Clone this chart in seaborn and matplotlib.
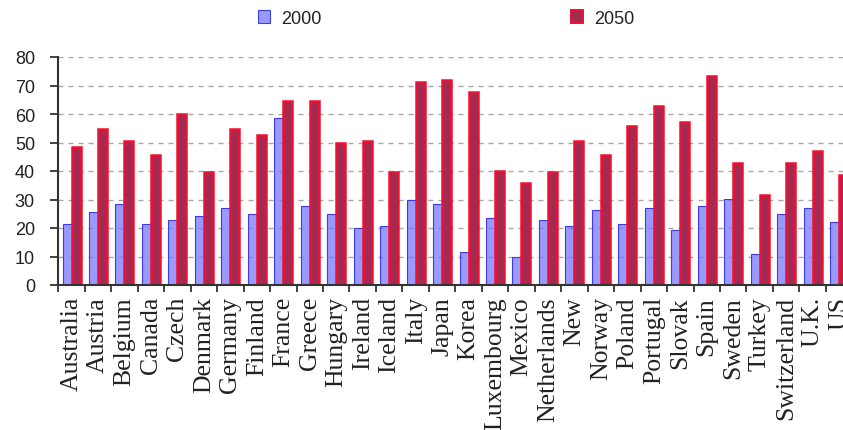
import numpy as np
import pandas as pd
import matplotlib
matplotlib.use("Agg")
import matplotlib.pyplot as plt
from matplotlib.patches import Patch
from matplotlib.font_manager import FontProperties
import seaborn as sns

# OECD countries (as labelled on the axis)
countries = ["Australia", "Austria", "Belgium", "Canada", "Czech", "Denmark",
             "Germany", "Finland", "France", "Greece", "Hungary", "Ireland",
             "Iceland", "Italy", "Japan", "Korea", "Luxembourg", "Mexico",
             "Netherlands", "New", "Norway", "Poland", "Portugal", "Slovak",
             "Spain", "Sweden", "Turkey", "Switzerland", "U.K.", "US"]

values_2000 = [21.3, 25.5, 28.3, 21.3, 22.7, 24.1, 26.9, 24.8, 58.7, 27.6,
               24.8, 19.9, 20.6, 29.7, 28.3, 11.6, 23.4, 9.7, 22.7, 20.6,
               26.2, 21.3, 26.9, 19.2, 27.6, 30.3, 10.8, 24.8, 26.9, 22.0]

values_2050 = [48.4, 54.7, 50.5, 45.7, 60.1, 39.5, 54.7, 52.6, 64.4, 64.4,
               49.8, 50.5, 39.5, 71.3, 72.0, 67.8, 40.1, 35.9, 39.5, 50.5,
               45.7, 55.9, 62.9, 57.3, 73.3, 42.8, 31.7, 42.8, 47.0, 38.7]

years = ["2000", "2050"]
y_ticks = [0, 10, 20, 30, 40, 50, 60, 70, 80]

df = pd.DataFrame({
    "country": countries * 2,
    "year": [years[0]] * len(countries) + [years[1]] * len(countries),
    "value": values_2000 + values_2050,
})

sns.set_style("white")
plt.rcParams["font.family"] = ["Liberation Sans", "DejaVu Sans"]

W, H = 843, 431
fig = plt.figure(figsize=(W / 100, H / 100), dpi=100)
# plot area runs slightly past the right edge of the canvas
ax = fig.add_axes([58.3 / W, (H - 286) / H, 794 / W, 228 / H])

blue_fill = "#7777FF"
red_fill = "#A32A52"
red_edge = "#EE1030"
sns.barplot(data=df, x="country", y="value", hue="year", order=countries,
            hue_order=years, palette={"2000": blue_fill, "2050": red_fill},
            width=0.68, saturation=1, errorbar=None, legend=False, ax=ax)

# bar styling per series
for bar in ax.containers[0]:
    bar.set_facecolor((0x77 / 255, 0x77 / 255, 1.0, 0.75))
    bar.set_edgecolor("#3C3CE6")
    bar.set_linewidth(0.8)
for bar in ax.containers[1]:
    bar.set_edgecolor(red_edge)
    bar.set_linewidth(1.8)

ax.set_xlim(-0.5, len(countries) - 0.5)
ax.set_ylim(0, 80)
ax.set_yticks(y_ticks)
ax.set_yticklabels([str(t) for t in y_ticks])
ax.set_xlabel("")
ax.set_ylabel("")

ax.set_axisbelow(True)
ax.yaxis.grid(True, color="#A8A8A8", linewidth=1.0, linestyle=(0, (3.6, 3.6)))
ax.xaxis.grid(False)

for side in ("top", "right"):
    ax.spines[side].set_visible(False)
for side in ("left", "bottom"):
    ax.spines[side].set_color("#333333")
    ax.spines[side].set_linewidth(1.5)

ax.tick_params(axis="y", direction="out", length=5.8, width=1.3,
               color="#333333", pad=11, labelsize=13, labelcolor="#222222",
               left=True)

ax.set_xticks(range(len(countries)))
ax.set_xticklabels(countries, rotation=90, fontfamily="Liberation Serif",
                   fontsize=18.5, color="#222222")
ax.tick_params(axis="x", which="major", length=0, pad=8, bottom=True)
ax.set_xticks(np.arange(-0.5, len(countries), 1.0), minor=True)
ax.tick_params(axis="x", which="minor", direction="out", length=5,
               width=1.3, color="#333333", bottom=True)

handles = [Patch(facecolor="#9999FF", edgecolor="#4040E0", linewidth=0.8),
           Patch(facecolor=red_fill, edgecolor=red_edge, linewidth=1.4)]
leg = fig.legend(handles, years, loc="center",
                 bbox_to_anchor=(446 / W, 1 - 19 / H), ncol=2, frameon=False,
                 handlelength=0.7, handleheight=0.7, handletextpad=0.6,
                 columnspacing=13.8,
                 prop=FontProperties(family="Liberation Sans", size=13))
for t in leg.get_texts():
    t.set_color("#222222")

fig.savefig("out.png", dpi=100)
